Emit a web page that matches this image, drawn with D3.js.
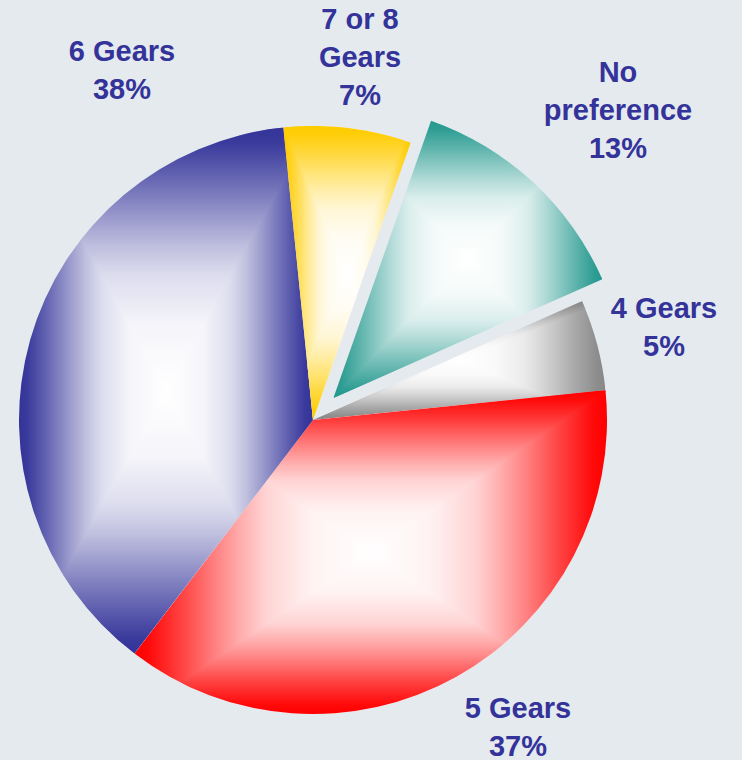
<!DOCTYPE html>
<html><head><meta charset="utf-8">
<script src="https://cdn.jsdelivr.net/npm/d3@7"></script>
<style>html,body{margin:0;padding:0;background:#e5eaef;} svg{display:block}</style>
</head><body>
<script>
// ---- data ----
const categories = ["4 Gears", "5 Gears", "6 Gears", "7 or 8 Gears", "No preference"];
const values = [5, 37, 38, 7, 13];
const labelNameLines = [["4 Gears"], ["5 Gears"], ["6 Gears"], ["7 or 8", "Gears"], ["No", "preference"]];
const colors = ["#888888", "#ff0000", "#333399", "#ffcc00", "#25998f"];
const explodeOffsets = [0, 0, 0, 0, 30];
// ---- layout / style ----
const W = 742, H = 760;
const cx = 313, cy = 420, R = 294;
const startDeg = 66.2;
const labelPos = [[664, 318], [518, 718], [122, 61], [360, 29], [618, 82]]; // first baseline
const lineH = 38;
const textColor = "#333399";
// gradient profile: [fraction from edge toward centre, amount of white]
const gradProfile = [[0, 0], [0.06, 0.04], [0.2, 0.26], [0.34, 0.5], [0.45, 0.68], [0.56, 0.83], [0.75, 0.95], [1, 1]];

const svg = d3.select("body").append("svg").attr("width", W).attr("height", H);
svg.append("rect").attr("width", W).attr("height", H).attr("fill", "#e5eaef");
const defs = svg.append("defs");

const total = d3.sum(values);
const pie = d3.pie().sort(null)
  .startAngle(startDeg * Math.PI / 180)
  .endAngle(startDeg * Math.PI / 180 + 2 * Math.PI);
const arcs = pie(values);
const arc = d3.arc().innerRadius(0).outerRadius(R);

function sliceBBox(a0, a1) {
  const pts = [[0, 0], [R * Math.sin(a0), -R * Math.cos(a0)], [R * Math.sin(a1), -R * Math.cos(a1)]];
  const q = Math.PI / 2;
  for (let k = Math.ceil(a0 / q); k * q <= a1; k++) {
    const a = k * q;
    pts.push([R * Math.sin(a), -R * Math.cos(a)]);
  }
  return {
    x0: d3.min(pts, p => p[0]), x1: d3.max(pts, p => p[0]),
    y0: d3.min(pts, p => p[1]), y1: d3.max(pts, p => p[1])
  };
}

// mirrored gradient: colour at both ends, white in the middle
function addMirrorGrad(id, x1, y1, x2, y2, col) {
  const g = defs.append("linearGradient").attr("id", id)
    .attr("gradientUnits", "userSpaceOnUse")
    .attr("x1", x1).attr("y1", y1).attr("x2", x2).attr("y2", y2);
  const mix = d3.interpolateRgb(col, "#ffffff");
  const stops = [];
  gradProfile.forEach(([f, w]) => stops.push([f / 2, w]));
  gradProfile.slice().reverse().forEach(([f, w]) => { if (f < 1) stops.push([1 - f / 2, w]); });
  stops.forEach(([o, w]) => g.append("stop").attr("offset", o).attr("stop-color", mix(w)));
}

arcs.forEach((d, i) => {
  const mid = (d.startAngle + d.endAngle) / 2;
  const off = explodeOffsets[i];
  const tx = cx + off * Math.sin(mid), ty = cy - off * Math.cos(mid);
  const b = sliceBBox(d.startAngle, d.endAngle);
  const mx = (b.x0 + b.x1) / 2, my = (b.y0 + b.y1) / 2;
  const col = colors[i];

  defs.append("clipPath").attr("id", "clip" + i)
    .append("path").attr("d", arc(d)).attr("shape-rendering", "crispEdges");

  addMirrorGrad(`gh${i}`, b.x0, my, b.x1, my, col);
  addMirrorGrad(`gv${i}`, mx, b.y0, mx, b.y1, col);

  const g = svg.append("g").attr("transform", `translate(${tx},${ty})`)
    .attr("clip-path", `url(#clip${i})`);
  g.append("rect").attr("x", b.x0).attr("y", b.y0)
    .attr("width", b.x1 - b.x0).attr("height", b.y1 - b.y0).attr("fill", `url(#gh${i})`);
  g.append("path")
    .attr("d", `M${b.x0},${b.y0}L${b.x1},${b.y0}L${mx},${my}Z`)
    .attr("fill", `url(#gv${i})`);
  g.append("path")
    .attr("d", `M${b.x0},${b.y1}L${b.x1},${b.y1}L${mx},${my}Z`)
    .attr("fill", `url(#gv${i})`);
});

// labels
arcs.forEach((d, i) => {
  const lines = labelNameLines[i].concat([Math.round(values[i] / total * 100) + "%"]);
  const t = svg.append("text")
    .attr("x", labelPos[i][0]).attr("y", labelPos[i][1])
    .attr("text-anchor", "middle")
    .attr("font-family", "Liberation Sans, Arial, sans-serif")
    .attr("font-weight", "bold")
    .attr("font-size", 29)
    .attr("fill", textColor);
  lines.forEach((ln, k) => {
    t.append("tspan").attr("x", labelPos[i][0]).attr("y", labelPos[i][1] + k * lineH).text(ln);
  });
});
</script>
</body></html>
